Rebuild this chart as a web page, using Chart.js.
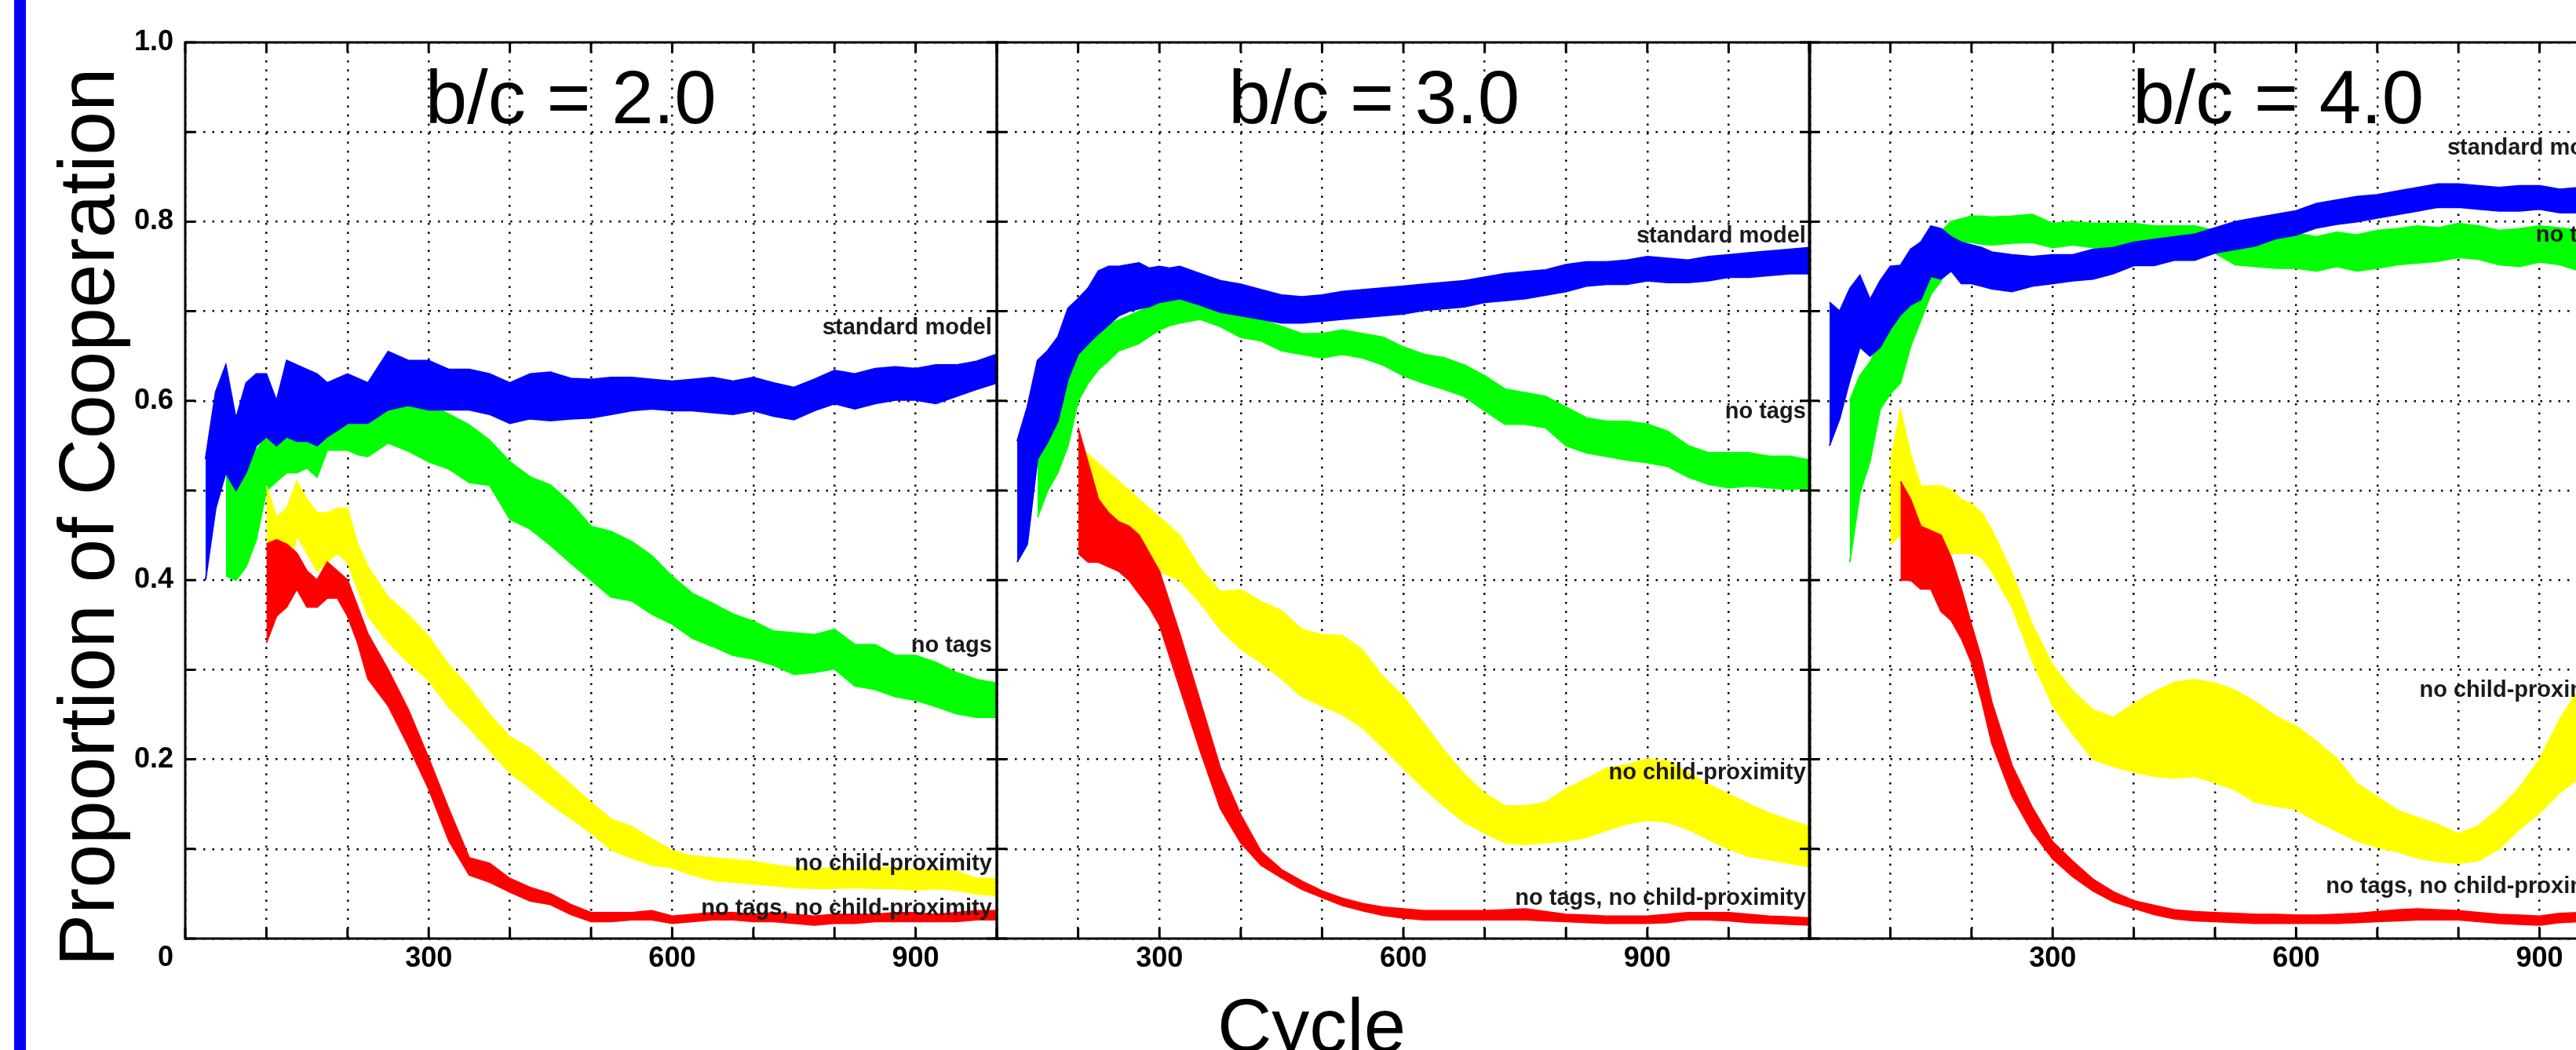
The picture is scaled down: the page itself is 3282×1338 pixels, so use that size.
<!DOCTYPE html>
<html>
<head>
<meta charset="utf-8">
<script src="https://cdn.jsdelivr.net/npm/chart.js@4.4.1/dist/chart.umd.min.js"></script>
<style>
  html, body { margin: 0; padding: 0; background: #fff; overflow: hidden; }
  body { width: 3282px; height: 1338px; position: relative; font-family: "Liberation Sans", Arial, sans-serif; }
  #accent { position: absolute; left: 18px; top: 0; width: 15px; height: 1338px; background: #0000ff; }
  canvas { position: absolute; top: 0; }
  #c1 { left: 0; }
  #c2 { left: 1240px; }
  #c3 { left: 2275px; }
  #xTitle { position: absolute; left: 1671px; top: 1259px; transform: translateX(-50%);
            font-size: 96px; line-height: 96px; color: #000; white-space: nowrap; }
</style>
</head>
<body>
<div id="accent"></div>
<canvas id="c1" width="1300" height="1338"></canvas>
<canvas id="c2" width="1100" height="1338"></canvas>
<canvas id="c3" width="1100" height="1338"></canvas>
<div id="xTitle">Cycle</div>
<script>
// cycles sampled for each panel
const cycles1 = [25, 37.5, 50, 62.5, 75, 87.5, 100, 112.5, 125, 137.5, 150, 162.5, 175, 187.5, 200, 212.5, 225,
  250, 275, 300, 325, 350, 375, 400, 425, 450, 475, 500, 525, 550, 575, 600, 625, 650, 675, 700, 725,
  750, 775, 800, 825, 850, 875, 900, 925, 950, 975, 1000];
const cycles2 = [125, 137.5, 150, 162.5, 175, 187.5, 200, 212.5, 225, 237.5, 250, 262.5, 275, 287.5, 300, 312.5, 325,
  350, 375, 400, 425, 450, 475, 500, 525, 550, 575, 600, 625, 650, 675, 700, 725, 750, 775, 800, 825,
  850, 875, 900, 925, 950, 975, 1000, 1025, 1050, 1075, 1100];
const cycles3 = [25, 37.5, 50, 62.5, 75, 87.5, 100, 112.5, 125, 137.5, 150, 162.5, 175, 187.5, 200, 212.5, 225,
  250, 275, 300, 325, 350, 375, 400, 425, 450, 475, 500, 525, 550, 575, 600, 625, 650, 675, 700, 725,
  750, 775, 800, 825, 850, 875, 900, 925, 950];

// b/c = 2.0 : upper / lower edge of each band
const std1Hi = [0.535, 0.61, 0.64, 0.58, 0.62, 0.63, 0.63, 0.60, 0.645, 0.64, 0.635, 0.63, 0.62, 0.625, 0.63, 0.625, 0.62,
  0.655, 0.645, 0.645, 0.635, 0.635, 0.63, 0.62, 0.63, 0.632, 0.625, 0.624, 0.626, 0.626, 0.624, 0.622, 0.624, 0.626, 0.622, 0.626, 0.62,
  0.615, 0.624, 0.634, 0.63, 0.636, 0.638, 0.636, 0.64, 0.64, 0.644, 0.652];
const std1Lo = [0.40, 0.48, 0.52, 0.50, 0.52, 0.55, 0.56, 0.55, 0.56, 0.555, 0.555, 0.55, 0.56, 0.567, 0.575, 0.575, 0.575,
  0.59, 0.595, 0.59, 0.59, 0.59, 0.585, 0.575, 0.58, 0.578, 0.58, 0.581, 0.585, 0.589, 0.591, 0.589, 0.589, 0.587, 0.585, 0.589, 0.583,
  0.579, 0.589, 0.597, 0.591, 0.597, 0.601, 0.601, 0.597, 0.605, 0.613, 0.62];
const noTags1Hi = [null, null, 0.52, 0.50, 0.53, 0.545, 0.56, 0.55, 0.575, 0.57, 0.58, 0.59, 0.61, 0.61, 0.60, 0.59, 0.59,
  0.60, 0.611, 0.596, 0.585, 0.573, 0.556, 0.532, 0.515, 0.506, 0.486, 0.46, 0.454, 0.443, 0.427, 0.404, 0.385, 0.374, 0.362, 0.354, 0.343,
  0.341, 0.339, 0.345, 0.328, 0.328, 0.316, 0.316, 0.308, 0.297, 0.289, 0.285];
const noTags1Lo = [null, null, 0.405, 0.40, 0.415, 0.445, 0.50, 0.51, 0.52, 0.52, 0.525, 0.515, 0.545, 0.545, 0.545, 0.54, 0.538,
  0.553, 0.544, 0.532, 0.524, 0.509, 0.506, 0.468, 0.457, 0.439, 0.419, 0.40, 0.381, 0.377, 0.362, 0.351, 0.335, 0.326, 0.316, 0.312, 0.305,
  0.295, 0.297, 0.301, 0.282, 0.278, 0.270, 0.266, 0.259, 0.251, 0.247, 0.247];
const noChild1Hi = [null, null, null, null, null, null, 0.505, 0.47, 0.48, 0.51, 0.49, 0.475, 0.475, 0.48, 0.48, 0.44, 0.415,
  0.381, 0.361, 0.337, 0.305, 0.28, 0.25, 0.225, 0.212, 0.192, 0.172, 0.152, 0.133, 0.125, 0.111, 0.098, 0.092, 0.090, 0.088, 0.086, 0.082,
  0.079, 0.077, 0.079, 0.077, 0.079, 0.079, 0.077, 0.077, 0.075, 0.067, 0.067];
const noChild1Lo = [null, null, null, null, null, null, 0.44, 0.43, 0.40, 0.45, 0.43, 0.41, 0.42, 0.43, 0.42, 0.39, 0.36,
  0.331, 0.308, 0.288, 0.258, 0.235, 0.21, 0.185, 0.168, 0.150, 0.134, 0.118, 0.099, 0.090, 0.082, 0.079, 0.071, 0.065, 0.063, 0.061, 0.059,
  0.057, 0.056, 0.056, 0.057, 0.056, 0.056, 0.054, 0.056, 0.054, 0.050, 0.048];
const both1Hi = [null, null, null, null, null, null, 0.44, 0.445, 0.44, 0.43, 0.41, 0.40, 0.42, 0.41, 0.40, 0.37, 0.34,
  0.30, 0.255, 0.201, 0.144, 0.090, 0.084, 0.067, 0.057, 0.050, 0.038, 0.029, 0.029, 0.029, 0.031, 0.025, 0.027, 0.029, 0.029, 0.027, 0.029,
  0.027, 0.025, 0.027, 0.027, 0.027, 0.029, 0.029, 0.027, 0.029, 0.031, 0.031];
const both1Lo = [null, null, null, null, null, null, 0.33, 0.36, 0.37, 0.39, 0.37, 0.37, 0.38, 0.38, 0.36, 0.33, 0.29,
  0.26, 0.215, 0.167, 0.109, 0.071, 0.063, 0.052, 0.042, 0.038, 0.027, 0.019, 0.019, 0.021, 0.021, 0.017, 0.019, 0.021, 0.021, 0.019, 0.019,
  0.017, 0.015, 0.017, 0.017, 0.019, 0.019, 0.019, 0.019, 0.019, 0.021, 0.021];

// b/c = 3.0
const std2Hi = [0.555, 0.593, 0.645, 0.656, 0.671, 0.703, 0.714, 0.726, 0.745, 0.75, 0.75, 0.752, 0.754, 0.748, 0.75, 0.748, 0.75,
  0.742, 0.734, 0.730, 0.724, 0.718, 0.716, 0.718, 0.722, 0.724, 0.726, 0.728, 0.730, 0.732, 0.734, 0.738, 0.742, 0.744, 0.746, 0.752, 0.755,
  0.755, 0.757, 0.761, 0.759, 0.757, 0.761, 0.763, 0.765, 0.767, 0.769, 0.771];
const std2Lo = [0.42, 0.44, 0.535, 0.554, 0.577, 0.624, 0.652, 0.664, 0.675, 0.685, 0.695, 0.70, 0.703, 0.705, 0.71, 0.712, 0.714,
  0.707, 0.699, 0.695, 0.691, 0.687, 0.687, 0.689, 0.691, 0.693, 0.695, 0.697, 0.701, 0.703, 0.705, 0.710, 0.712, 0.714, 0.718, 0.722, 0.728,
  0.730, 0.730, 0.734, 0.732, 0.732, 0.734, 0.738, 0.738, 0.740, 0.742, 0.742];
const noTags2Hi = [null, null, 0.54, 0.56, 0.58, 0.62, 0.66, 0.67, 0.68, 0.685, 0.69, 0.695, 0.70, 0.705, 0.71, 0.715, 0.718,
  0.710, 0.703, 0.695, 0.691, 0.683, 0.675, 0.675, 0.679, 0.675, 0.671, 0.660, 0.652, 0.648, 0.640, 0.628, 0.613, 0.609, 0.605, 0.593, 0.581,
  0.577, 0.577, 0.574, 0.566, 0.550, 0.542, 0.542, 0.542, 0.538, 0.538, 0.534];
const noTags2Lo = [null, null, 0.47, 0.50, 0.52, 0.55, 0.60, 0.62, 0.635, 0.645, 0.656, 0.66, 0.664, 0.672, 0.679, 0.684, 0.687,
  0.691, 0.683, 0.671, 0.667, 0.656, 0.652, 0.648, 0.652, 0.648, 0.640, 0.628, 0.620, 0.613, 0.605, 0.589, 0.574, 0.574, 0.570, 0.550, 0.542,
  0.538, 0.534, 0.531, 0.527, 0.515, 0.507, 0.503, 0.505, 0.503, 0.501, 0.503];
const noChild2Hi = [null, null, null, null, null, null, 0.55, 0.54, 0.53, 0.52, 0.51, 0.50, 0.49, 0.48, 0.47, 0.46, 0.45,
  0.413, 0.387, 0.389, 0.376, 0.366, 0.345, 0.339, 0.338, 0.322, 0.292, 0.27, 0.24, 0.21, 0.183, 0.162, 0.148, 0.148, 0.152, 0.167, 0.178,
  0.19, 0.194, 0.20, 0.198, 0.185, 0.172, 0.161, 0.15, 0.14, 0.132, 0.125];
const noChild2Lo = [null, null, null, null, null, null, 0.44, 0.44, 0.44, 0.435, 0.43, 0.425, 0.42, 0.415, 0.41, 0.405, 0.40,
  0.375, 0.345, 0.323, 0.308, 0.29, 0.27, 0.26, 0.25, 0.235, 0.213, 0.19, 0.168, 0.148, 0.13, 0.118, 0.107, 0.105, 0.107, 0.109, 0.113,
  0.121, 0.128, 0.132, 0.13, 0.122, 0.111, 0.10, 0.092, 0.088, 0.084, 0.08];
const both2Hi = [null, null, null, null, null, null, 0.57, 0.53, 0.49, 0.475, 0.465, 0.46, 0.45, 0.43, 0.41, 0.375, 0.34,
  0.265, 0.19, 0.138, 0.097, 0.077, 0.064, 0.053, 0.045, 0.039, 0.035, 0.033, 0.031, 0.031, 0.031, 0.031, 0.032, 0.033, 0.030, 0.027, 0.026,
  0.025, 0.025, 0.025, 0.027, 0.029, 0.029, 0.029, 0.027, 0.025, 0.024, 0.023];
const both2Lo = [null, null, null, null, null, null, 0.43, 0.42, 0.42, 0.415, 0.41, 0.40, 0.385, 0.37, 0.35, 0.315, 0.28,
  0.21, 0.145, 0.107, 0.082, 0.068, 0.055, 0.046, 0.037, 0.031, 0.026, 0.023, 0.021, 0.021, 0.021, 0.021, 0.021, 0.021, 0.020, 0.019, 0.018,
  0.017, 0.017, 0.017, 0.018, 0.021, 0.021, 0.020, 0.018, 0.017, 0.016, 0.015];

// b/c = 4.0
const std3Hi = [0.71, 0.70, 0.725, 0.74, 0.713, 0.734, 0.75, 0.751, 0.769, 0.777, 0.795, 0.792, 0.783, 0.777, 0.774, 0.771, 0.766,
  0.763, 0.761, 0.763, 0.763, 0.769, 0.771, 0.777, 0.780, 0.783, 0.786, 0.793, 0.800, 0.804, 0.808, 0.812, 0.820, 0.824, 0.828, 0.830, 0.834,
  0.838, 0.842, 0.842, 0.840, 0.838, 0.840, 0.840, 0.836, 0.838];
const std3Lo = [0.55, 0.58, 0.623, 0.66, 0.65, 0.66, 0.68, 0.696, 0.707, 0.713, 0.739, 0.736, 0.745, 0.731, 0.731, 0.728, 0.725,
  0.722, 0.728, 0.731, 0.734, 0.736, 0.742, 0.751, 0.751, 0.757, 0.757, 0.765, 0.769, 0.773, 0.781, 0.785, 0.793, 0.797, 0.800, 0.804, 0.808,
  0.812, 0.816, 0.816, 0.814, 0.812, 0.812, 0.814, 0.810, 0.810];
const noTags3Hi = [null, null, 0.60, 0.628, 0.643, 0.667, 0.684, 0.699, 0.713, 0.725, 0.754, 0.789, 0.80, 0.803, 0.806, 0.806, 0.805,
  0.806, 0.808, 0.798, 0.800, 0.798, 0.798, 0.798, 0.795, 0.795, 0.795, 0.79, 0.785, 0.783, 0.785, 0.787, 0.783, 0.788, 0.785, 0.790, 0.792,
  0.795, 0.793, 0.798, 0.795, 0.790, 0.792, 0.795, 0.793, 0.790];
const noTags3Lo = [null, null, 0.42, 0.497, 0.533, 0.591, 0.608, 0.620, 0.661, 0.69, 0.719, 0.734, 0.78, 0.778, 0.777, 0.775, 0.774,
  0.776, 0.777, 0.771, 0.774, 0.771, 0.772, 0.772, 0.770, 0.77, 0.77, 0.765, 0.752, 0.750, 0.748, 0.748, 0.745, 0.750, 0.745, 0.748, 0.752,
  0.754, 0.756, 0.760, 0.758, 0.752, 0.750, 0.755, 0.752, 0.745];
const noChild3Hi = [null, null, null, null, null, null, 0.53, 0.59, 0.54, 0.505, 0.505, 0.505, 0.50, 0.49, 0.485, 0.475, 0.456,
  0.408, 0.35, 0.305, 0.276, 0.255, 0.247, 0.262, 0.275, 0.286, 0.289, 0.285, 0.277, 0.264, 0.248, 0.237, 0.22, 0.201, 0.173, 0.158, 0.143,
  0.135, 0.127, 0.117, 0.126, 0.145, 0.168, 0.20, 0.245, 0.28];
const noChild3Lo = [null, null, null, null, null, null, 0.44, 0.45, 0.44, 0.44, 0.43, 0.43, 0.43, 0.43, 0.43, 0.425, 0.41,
  0.37, 0.31, 0.26, 0.228, 0.20, 0.192, 0.186, 0.181, 0.179, 0.181, 0.174, 0.166, 0.152, 0.148, 0.144, 0.131, 0.12, 0.109, 0.102, 0.097,
  0.090, 0.086, 0.084, 0.087, 0.100, 0.122, 0.14, 0.163, 0.18];
const both3Hi = [null, null, null, null, null, null, null, 0.51, 0.49, 0.46, 0.455, 0.45, 0.425, 0.39, 0.35, 0.312, 0.264,
  0.193, 0.146, 0.108, 0.086, 0.066, 0.052, 0.042, 0.037, 0.032, 0.030, 0.029, 0.028, 0.027, 0.027, 0.026, 0.026, 0.027, 0.028, 0.030, 0.032,
  0.033, 0.032, 0.031, 0.029, 0.027, 0.026, 0.025, 0.028, 0.029];
const both3Lo = [null, null, null, null, null, null, null, 0.40, 0.40, 0.39, 0.39, 0.365, 0.355, 0.335, 0.308, 0.266, 0.218,
  0.159, 0.119, 0.089, 0.069, 0.053, 0.041, 0.034, 0.027, 0.022, 0.020, 0.019, 0.018, 0.017, 0.017, 0.017, 0.017, 0.017, 0.018, 0.019, 0.020,
  0.021, 0.021, 0.021, 0.019, 0.017, 0.016, 0.015, 0.018, 0.019];

const seriesNames = ['standard model', 'no tags', 'no child-proximity', 'no tags, no child-proximity'];
const panelTitles = ['b/c = 2.0', 'b/c = 3.0', 'b/c = 4.0'];
const yTickLabels = [['', '0'], '', '0.2', '', '0.4', '', '0.6', '', '0.8', '', '1.0'];
const xTickLabels = ['300', '600', '900'];
const yAxisTitle = 'Proportion of Cooperation';

const colors = ['#0000ff', '#00ff00', '#ffff00', '#ff0000'];
const drawOrder = [2, 3, 1, 0];   // green lowest, blue over it, red on top
const FONT = '"Liberation Sans", Arial, sans-serif';
Chart.defaults.font.family = FONT;

function pts(xs, ys) {
  return xs.map((x, i) => ({ x: x, y: ys[i] }));
}

// each series is a band: upper edge, then lower edge filled up to it
function bandSets(xs, bands) {
  const sets = [];
  bands.forEach((b, k) => {
    sets.push({ label: seriesNames[k], data: pts(xs, b[0]), borderColor: colors[k], backgroundColor: colors[k],
      borderWidth: 2, pointRadius: 0, fill: false, order: drawOrder[k] });
    sets.push({ label: seriesNames[k], data: pts(xs, b[1]), borderColor: colors[k], backgroundColor: colors[k],
      borderWidth: 2, pointRadius: 0, fill: '-1', order: drawOrder[k] });
  });
  return sets;
}

// matlab style box, inward ticks, panel title and in-plot labels
const matlabBox = {
  id: 'matlabBox',
  afterDraw(chart, args, opts) {
    const { ctx, chartArea: a } = chart;
    const x = chart.scales.x, y = chart.scales.y;
    ctx.save();
    ctx.strokeStyle = '#000';
    ctx.lineWidth = 3;
    ctx.strokeRect(a.left, a.top, a.right - a.left, a.bottom - a.top);
    ctx.beginPath();
    x.ticks.forEach(t => {
      const px = x.getPixelForValue(t.value);
      ctx.moveTo(px, a.bottom); ctx.lineTo(px, a.bottom - 13);
      ctx.moveTo(px, a.top); ctx.lineTo(px, a.top + 13);
    });
    y.ticks.forEach(t => {
      const py = y.getPixelForValue(t.value);
      ctx.moveTo(a.left, py); ctx.lineTo(a.left + 13, py);
      ctx.moveTo(a.right, py); ctx.lineTo(a.right - 13, py);
    });
    ctx.stroke();

    ctx.fillStyle = '#000';
    ctx.font = '96px ' + FONT;
    ctx.textAlign = 'center';
    ctx.textBaseline = 'alphabetic';
    ctx.fillText(opts.title, x.getPixelForValue(opts.titleAt), y.getPixelForValue(0.91));

    if (opts.yTitle) {
      ctx.save();
      ctx.translate(145, 659);
      ctx.rotate(-Math.PI / 2);
      ctx.font = '100px ' + FONT;
      ctx.fillText(opts.yTitle, 0, 0);
      ctx.restore();
    }

    ctx.font = 'bold 29px ' + FONT;
    ctx.fillStyle = '#1a1a1a';
    ctx.textAlign = 'right';
    ctx.textBaseline = 'middle';
    opts.labels.forEach((l, k) => {
      ctx.fillText(seriesNames[k], x.getPixelForValue(opts.labelX), y.getPixelForValue(l));
    });
    ctx.restore();
  }
};

function makeChart(id, xs, bands, xmin, xmax, cfg) {
  const gridOpts = { color: '#000', lineWidth: 2.5, drawTicks: false };
  const borderOpts = { display: false, dash: [2.5, 9] };
  return new Chart(document.getElementById(id), {
    type: 'line',
    data: { datasets: bandSets(xs, bands) },
    options: {
      responsive: false,
      animation: false,
      devicePixelRatio: 1,
      events: [],
      layout: { padding: cfg.padding },
      plugins: {
        legend: { display: false },
        tooltip: { enabled: false },
        matlabBox: { title: cfg.title, titleAt: cfg.titleAt, labelX: cfg.labelX, labels: cfg.labels,
                     yTitle: cfg.showY ? yAxisTitle : null }
      },
      scales: {
        x: {
          type: 'linear', min: xmin, max: xmax, z: 1,
          grid: gridOpts, border: borderOpts,
          ticks: {
            stepSize: 100, autoSkip: false, maxRotation: 0, padding: 4, color: '#000',
            font: { size: 36, weight: 'bold' },
            callback: v => xTickLabels.includes(String(v)) ? String(v) : ''
          },
          afterFit: s => { s.height = 142; }
        },
        y: {
          min: 0, max: 1, z: 1,
          grid: gridOpts, border: borderOpts,
          ticks: {
            stepSize: 0.1, display: cfg.showY, padding: 15, color: '#000',
            font: { size: 36, weight: 'bold', lineHeight: 1.39 },
            callback: (v, i) => yTickLabels[i]
          },
          afterFit: s => { s.width = cfg.yWidth; }
        }
      }
    },
    plugins: [matlabBox]
  });
}

makeChart('c1', cycles1,
  [[std1Hi, std1Lo], [noTags1Hi, noTags1Lo], [noChild1Hi, noChild1Lo], [both1Hi, both1Lo]], 0, 1000,
  { padding: { left: 0, top: 54, right: 30, bottom: 0 }, yWidth: 236, showY: true,
    title: panelTitles[0], titleAt: 475, labelX: 994, labels: [0.681, 0.327, 0.083, 0.033] });

makeChart('c2', cycles2,
  [[std2Hi, std2Lo], [noTags2Hi, noTags2Lo], [noChild2Hi, noChild2Lo], [both2Hi, both2Lo]], 100, 1100,
  { padding: { left: 30, top: 54, right: 34, bottom: 0 }, yWidth: 0, showY: false,
    title: panelTitles[1], titleAt: 564, labelX: 1095, labels: [0.784, 0.588, 0.185, 0.045] });

makeChart('c3', cycles3,
  [[std3Hi, std3Lo], [noTags3Hi, noTags3Lo], [noChild3Hi, noChild3Lo], [both3Hi, both3Lo]], 0, 1000,
  { padding: { left: 30, top: 54, right: 36, bottom: 0 }, yWidth: 0, showY: false,
    title: panelTitles[2], titleAt: 578, labelX: 995, labels: [0.882, 0.785, 0.277, 0.058] });
</script>
</body>
</html>
